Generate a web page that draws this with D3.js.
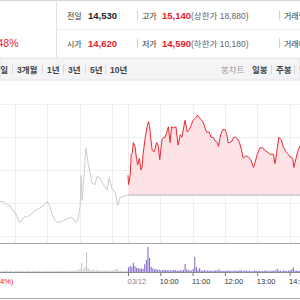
<!DOCTYPE html>
<html>
<head>
<meta charset="utf-8">
<script src="https://cdn.jsdelivr.net/npm/d3@7"></script>
<style>
  html, body { margin: 0; padding: 0; background: #fff; }
  svg { display: block; font-family: "Liberation Sans", "Noto Sans CJK KR", sans-serif; }
</style>
</head>
<body>
<svg id="chart" width="300" height="300"></svg>
<script>
// previous session (gray line), times are HH:MM
const prevTimes = ["11:28","11:32","11:38","11:47","11:51","11:56","12:00","12:09","12:19","12:22","12:32","12:41","12:50","12:56","13:00","13:05","13:09","13:14","13:20","13:29","13:37","13:46","13:53","13:57","14:01","14:03","14:05","14:12","14:16","14:19","14:23","14:29","14:32","14:38","14:44","14:51","14:55","15:00","15:06","15:10","15:11","15:15","15:21","15:30"];
const prevPrices = [14490,14480,14480,14450,14450,14410,14400,14320,14370,14360,14390,14420,14440,14460,14480,14440,14380,14340,14320,14330,14350,14360,14320,14340,14440,14680,14490,14890,14770,14710,14620,14610,14670,14660,14610,14570,14660,14580,14550,14470,14450,14510,14520,14530];

// today (red line)
const todayTimes = ["09:00","09:01","09:04","09:06","09:08","09:10","09:13","09:16","09:18","09:21","09:24","09:26","09:28","09:32","09:35","09:38","09:40","09:42","09:45","09:49","09:53","09:56","09:59","10:03","10:06","10:09","10:12","10:15","10:18","10:21","10:24","10:29","10:33","10:37","10:40","10:46","10:50","10:54","10:57","11:01","11:06","11:09","11:12","11:17","11:20","11:23","11:26","11:31","11:34","11:38","11:42","11:46","11:48","11:52","11:56","12:00","12:03","12:06","12:09","12:13","12:16","12:20","12:23","12:27","12:31","12:34","12:39","12:43","12:48","12:53","12:56","13:00","13:05","13:10","13:14","13:18","13:24","13:30","13:33","13:36","13:40","13:45","13:48","13:53","13:58","14:01","14:06","14:08","14:12","14:16","14:19","14:23"];
const todayPrices = [14680,14610,14680,14840,14850,14930,14900,14800,14760,14810,14720,14740,14840,14970,15040,15090,15060,14970,14870,14860,14930,14910,14800,14950,14970,14970,15010,15050,14930,15050,15040,15050,14910,14990,14970,15100,15010,15030,15060,15100,15120,15140,15120,15100,15080,15040,15010,15010,14970,14970,14940,14930,14900,14990,15030,15030,15000,14930,14930,14940,14970,14970,14960,14930,14870,14810,14830,14820,14800,14740,14780,14840,14890,14890,14870,14860,14840,14840,14770,14850,14970,14950,14900,14860,14840,14820,14810,14740,14810,14870,14900,14910];

const prevClose = 14530;

// volume, one bar per 3 minutes
const prevVolStart = "11:30";
const prevVolumes = [4,3,5,3,6,4,3,5,4,3, 4,6,3,4,5,3,4,3,6,4, 3,5,4,3,4,5,3,4,3,5, 4,3,5,4,3,6,4,5,3,4,
  5,3,4,6,3,5,4,3,8,6, 12,35,10,20,77,15,8,6,10,5, 6,8,5,4,6,5,7,4,5,6, 5,8,10,12,6,4,5,3,4,6];
const todayVolStart = "09:00";
const todayVolumes = [18,24,20,35,22,16,15,12,14,12, 30,46,96,54,20,14,10,12,8,9, 7,6,9,8,6,7,5,6,8,7,
  6,5,7,6,8,31,10,7,6,5, 12,58,20,8,15,6,5,7,5,6, 5,6,4,5,7,6,10,5,4,5, 4,5,6,4,5,4,6,5,4,8,
  5,4,6,5,4,5,3,4,6,5, 4,5,3,4,5,6,4,3,5,4, 6,5,12,6,5,4,6,5,4,5, 7,10,18,6,5,4,6,5];

// axis
const gridPrices = [14220, 14470, 14720, 14970, 15220];
const prevGridTimes = ["12:00","13:00","14:00","15:00"];
const todayTicks = ["09:00","10:00","11:00","12:00","13:00","14:00"];
const todayTickLabels = ["03/12","10:00","11:00","12:00","13:00","14:00"];

// header
const headerRows = [
  {k1: "전일", v1: "14,530", c1: "#222", k2: "고가", v2: "15,140", lim: "(상한가 18,880)", k3: "거래량"},
  {k1: "시가", v1: "14,620", c1: "#e3202b", k2: "저가", v2: "14,590", lim: "(하한가 10,180)", k3: "거래대금"}
];
const periodTabs = ["1주일","3개월","1년","3년","5년","10년"];
const candleTabs = ["일봉","주봉","월봉"];

const svg = d3.select("#chart");
const toMin = s => { const p = s.split(":"); return (+p[0] - 9) * 60 + (+p[1]); };
const SESSION = 390;

// one continuous axis: previous day minutes, then today shifted by a session
let x = d3.scaleLinear().domain([0, 720]).range([-82, 305.7]);
let y = d3.scaleLinear().domain([14300, 15300]).range([225.2, 94]);
let yv = d3.scaleLinear().domain([0, 100]).range([272, 246]);

let prevData = prevTimes.map((t, i) => ({m: toMin(t), p: prevPrices[i]}));
let todayData = todayTimes.map((t, i) => ({m: toMin(t) + SESSION, p: todayPrices[i]}));

// ---- header panel
svg.append("line").attr("x1", 0).attr("x2", 300).attr("y1", 0.5).attr("y2", 0.5).attr("stroke", "#d5d5d5");
svg.append("line").attr("x1", 56.5).attr("x2", 56.5).attr("y1", 0).attr("y2", 58).attr("stroke", "#e2e2e2");
svg.append("line").attr("x1", 56).attr("x2", 300).attr("y1", 29.5).attr("y2", 29.5).attr("stroke", "#ececec");
svg.append("text").attr("x", 18.5).attr("y", 47).attr("text-anchor", "end")
  .attr("font-size", 10.5).attr("fill", "#ef1c24").text("2.48%");

headerRows.forEach((r, i) => {
  let by = 18.5 + i * 28;
  let g = svg.append("g");
  g.append("text").attr("x", 67).attr("y", by).attr("font-size", 8).attr("fill", "#333").text(r.k1);
  g.append("text").attr("x", 88).attr("y", by).attr("font-size", 9.5).attr("font-weight", "bold").attr("fill", r.c1).text(r.v1);
  g.append("line").attr("x1", 137.5).attr("x2", 137.5).attr("y1", by - 8).attr("y2", by + 1).attr("stroke", "#cfcfcf");
  g.append("text").attr("x", 142).attr("y", by).attr("font-size", 8).attr("fill", "#333").text(r.k2);
  g.append("text").attr("x", 162).attr("y", by).attr("font-size", 9.5).attr("font-weight", "bold").attr("fill", "#e3202b").text(r.v2);
  g.append("text").attr("x", 191).attr("y", by).attr("font-size", 8.5).attr("fill", "#666").text(r.lim);
  g.append("line").attr("x1", 279.5).attr("x2", 279.5).attr("y1", by - 8).attr("y2", by + 1).attr("stroke", "#cfcfcf");
  g.append("text").attr("x", 284).attr("y", by).attr("font-size", 8).attr("fill", "#333").text(r.k3);
});

// ---- tab bar
svg.append("rect").attr("x", 0).attr("y", 58).attr("width", 300).attr("height", 22)
  .attr("fill", "#f4f4f6").attr("stroke", "#e4e4e6");
let tabX = [8, 17, 47, 68, 90, 110];
periodTabs.forEach((t, i) => {
  svg.append("text").attr("x", tabX[i]).attr("y", 72.5).attr("font-size", 8.5).attr("font-weight", "bold")
    .attr("text-anchor", i == 0 ? "end" : "start").attr("fill", "#444").text(t);
  if (i > 0) svg.append("line").attr("x1", tabX[i] - 4.5).attr("x2", tabX[i] - 4.5)
    .attr("y1", 65).attr("y2", 74).attr("stroke", "#d8d8d8");
});
svg.append("text").attr("x", 221).attr("y", 72.5).attr("font-size", 8.5).attr("fill", "#999").text("봉차트");
let ctX = [252, 276, 299];
candleTabs.forEach((t, i) => {
  svg.append("text").attr("x", ctX[i]).attr("y", 72.5).attr("font-size", 8.5).attr("font-weight", "bold")
    .attr("fill", "#444").text(t);
  if (i > 0) svg.append("line").attr("x1", ctX[i] - 4.5).attr("x2", ctX[i] - 4.5)
    .attr("y1", 65).attr("y2", 74).attr("stroke", "#d8d8d8");
});

// ---- grid
let gridTimes = prevGridTimes.map(toMin).concat(todayTicks.map(t => toMin(t) + SESSION));
svg.append("g").selectAll("line").data(gridPrices).enter().append("line")
  .attr("x1", 0).attr("x2", 300)
  .attr("y1", d => Math.round(y(d)) + 0.5).attr("y2", d => Math.round(y(d)) + 0.5)
  .attr("stroke", "#eeeef0");
svg.append("g").selectAll("line").data(gridTimes).enter().append("line")
  .attr("x1", d => Math.round(x(d)) + 0.5).attr("x2", d => Math.round(x(d)) + 0.5)
  .attr("y1", 104).attr("y2", 243)
  .attr("stroke", "#eeeef0");

// ---- today area + baseline
let area = d3.area().x(d => x(d.m)).y0(y(prevClose)).y1(d => y(d.p));
svg.append("path").datum(todayData).attr("d", area).attr("fill", "#fde3e5");
svg.append("line").attr("x1", x(SESSION)).attr("x2", 300)
  .attr("y1", y(prevClose)).attr("y2", y(prevClose)).attr("stroke", "#b4b4b8");

let line = d3.line().x(d => x(d.m)).y(d => y(d.p));
svg.append("path").datum(prevData).attr("d", line)
  .attr("fill", "none").attr("stroke", "#c9cbd1").attr("stroke-width", 1);
svg.append("path").datum(todayData).attr("d", line)
  .attr("fill", "none").attr("stroke", "#ea2a35").attr("stroke-width", 1);

// ---- volume panel
svg.append("line").attr("x1", 0).attr("x2", 300).attr("y1", 243.5).attr("y2", 243.5).attr("stroke", "#a8a8ac");
let pv0 = toMin(prevVolStart), tv0 = toMin(todayVolStart) + SESSION;
svg.append("g").selectAll("rect").data(prevVolumes).enter().append("rect")
  .attr("x", (d, i) => x(pv0 + i * 3)).attr("width", 1.1)
  .attr("y", d => yv(d)).attr("height", d => yv(0) - yv(d))
  .attr("fill", "#c6c7cc");
svg.append("g").selectAll("rect").data(todayVolumes).enter().append("rect")
  .attr("x", (d, i) => x(tv0 + i * 3)).attr("width", 1.1)
  .attr("y", d => yv(d)).attr("height", d => yv(0) - yv(d))
  .attr("fill", "#8a70c8");
svg.append("line").attr("x1", 0).attr("x2", 300).attr("y1", 272.5).attr("y2", 272.5).attr("stroke", "#8c8c90");

// ---- time axis
let xAxis = d3.axisBottom(x)
  .tickValues(todayTicks.map(t => toMin(t) + SESSION))
  .tickFormat((d, i) => todayTickLabels[i])
  .tickSize(3.5);
let ax = svg.append("g").attr("transform", "translate(0,272.5)").call(xAxis);
ax.select(".domain").remove();
ax.selectAll(".tick line").attr("stroke", "#777");
ax.selectAll(".tick text").attr("text-anchor", "start").attr("x", -1).attr("dy", "0")
  .attr("y", 11.5).attr("font-size", 7.5)
  .attr("font-family", "Liberation Sans, sans-serif")
  .attr("fill", (d, i) => i == 0 ? "#888" : "#333");
svg.append("text").attr("x", 0).attr("y", 284).attr("font-size", 7.5).attr("fill", "#e3202b").text("4%)");

svg.append("line").attr("x1", 0).attr("x2", 300).attr("y1", 298.5).attr("y2", 298.5).attr("stroke", "#a8a8ac");
</script>
</body>
</html>
